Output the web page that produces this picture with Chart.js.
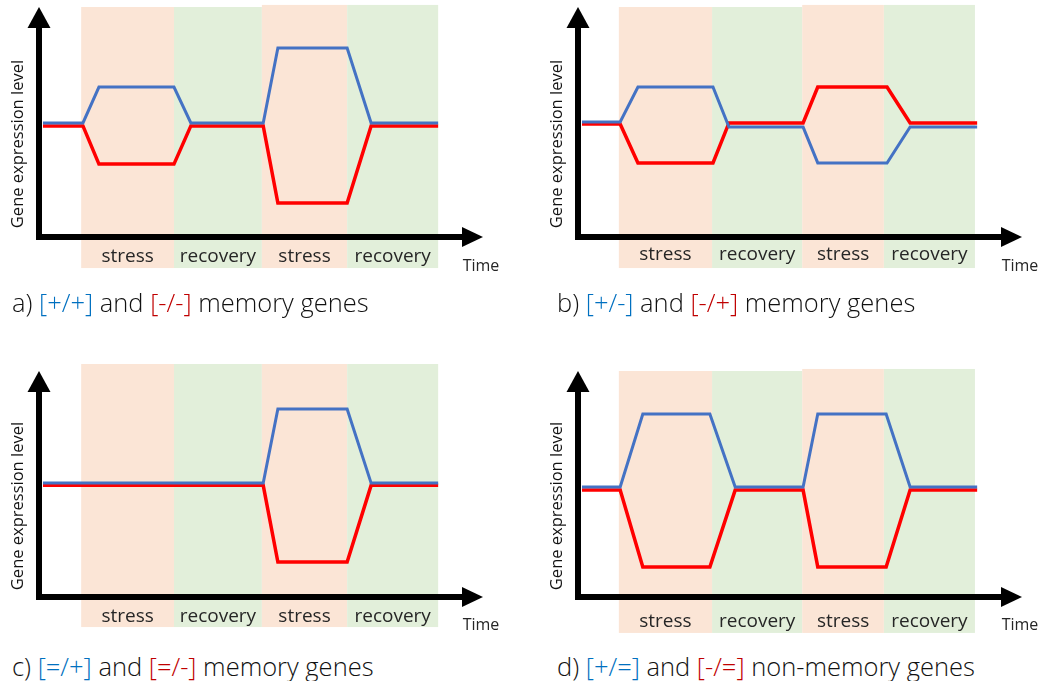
<!DOCTYPE html>
<html>
<head>
<meta charset="utf-8">
<script src="https://cdn.jsdelivr.net/npm/chart.js@4.4.0/dist/chart.umd.min.js"></script>
<style>
  body { margin: 0; background: #fff; width: 1040px; height: 681px; position: relative; overflow: hidden; }
  canvas.panel { position: absolute; }
  .caption { position: absolute; font-family: "Open Sans", sans-serif; font-weight: 300; font-size: 25.5px; line-height: 30px; color: #111; white-space: nowrap; }
  .up { color: #0070C0; }
  .down { color: #C00000; }
</style>
</head>
<body>
<canvas id="pa" class="panel" style="left:0;top:0" width="520" height="300"></canvas>
<canvas id="pb" class="panel" style="left:520px;top:0" width="520" height="300"></canvas>
<canvas id="pc" class="panel" style="left:0;top:340px" width="520" height="300"></canvas>
<canvas id="pd" class="panel" style="left:520px;top:340px" width="520" height="300"></canvas>

<div class="caption" style="left:12px;top:287px">a) <span class="up">[+/+]</span> and <span class="down">[-/-]</span> memory genes</div>
<div class="caption" style="left:557px;top:287px">b) <span class="up">[+/-]</span> and <span class="down">[-/+]</span> memory genes</div>
<div class="caption" style="left:12px;top:651px">c) <span class="up">[=/+]</span> and <span class="down">[=/-]</span> memory genes</div>
<div class="caption" style="left:557px;top:651px">d) <span class="up">[+/=]</span> and <span class="down">[-/=]</span> non-memory genes</div>

<script>
// phases along the time axis
const phaseNames = ['stress', 'recovery', 'stress', 'recovery'];
const phaseColors = ['#FBE5D6', '#E2EFDA', '#FBE5D6', '#E2EFDA'];

// a) [+/+] and [-/-]
const aTime = [0.9, 9.9, 13.5, 30.4, 34.2, 50.5, 53.8, 69.4, 74.8, 89.9];
const aBlue = [49.6, 49.6, 65.2, 65.2, 49.6, 49.6, 82.2, 82.2, 49.6, 49.6];
const aRed  = [48.3, 48.3, 31.7, 31.7, 48.3, 48.3, 14.8, 14.8, 48.3, 48.3];
const aEdges = [9.5, 30.4, 50.2, 69.4, 89.9];

// b) [+/-] and [-/+]
const bTime = [0.9, 9.5, 13.5, 30.4, 34.0, 50.7, 54.0, 69.6, 74.8, 89.9];
const bBlue = [50.0, 50.0, 65.2, 65.2, 47.8, 47.8, 32.2, 32.2, 47.8, 47.8];
const bRed  = [49.1, 49.1, 32.2, 32.2, 49.6, 49.6, 65.2, 65.2, 49.6, 49.6];
const bEdges = [9.2, 30.2, 50.5, 68.9, 89.4];

// c) [=/+] and [=/-]
const cTime = [0.9, 50.5, 53.8, 69.4, 74.8, 89.9];
const cBlue = [50.4, 50.4, 83.2, 83.2, 50.4, 50.4];
const cRed  = [49.4, 49.4, 15.5, 15.5, 49.4, 49.4];
const cEdges = [9.5, 30.4, 50.2, 69.4, 89.9];

// d) [+/=] and [-/=]
const dTime = [0.9, 9.5, 14.6, 29.7, 35.4, 50.7, 54.0, 69.4, 74.8, 89.9];
const dBlue = [48.7, 48.7, 81.0, 81.0, 48.7, 48.7, 81.0, 81.0, 48.7, 48.7];
const dRed  = [47.3, 47.3, 13.3, 13.3, 47.3, 47.3, 13.3, 13.3, 47.3, 47.3];
const dEdges = [9.2, 30.2, 50.5, 68.9, 89.4];

const FONT = '"Open Sans", sans-serif';

var toPoints = (xs, ys) => xs.map((x, i) => ({ x: x, y: ys[i] }));

// shaded phases, arrows and labels
var schemePlugin = {
    id: 'scheme',
    beforeDatasetsDraw(chart) {
        const o = chart.options.plugins.scheme, ctx = chart.ctx;
        const xs = chart.scales.x, ys = chart.scales.y;
        ctx.save();
        for (var i = 0; i < phaseNames.length; i++) {
            var x0 = xs.getPixelForValue(o.edges[i]), x1 = xs.getPixelForValue(o.edges[i + 1]);
            var y0 = ys.getPixelForValue(o.tops[i]), y1 = ys.getPixelForValue(o.bottom);
            ctx.fillStyle = phaseColors[i];
            ctx.fillRect(x0, y0, x1 - x0, y1 - y0);
        }
        ctx.restore();
    },
    afterDatasetsDraw(chart) {
        const o = chart.options.plugins.scheme, ctx = chart.ctx;
        const a = chart.chartArea, xs = chart.scales.x;
        const L = a.left, B = a.bottom, T = a.top, R = a.right;
        ctx.save();
        ctx.fillStyle = '#000';
        // y axis
        ctx.fillRect(L - 3, T + 20, 6, B - T - 17);
        ctx.beginPath();
        ctx.moveTo(L, T); ctx.lineTo(L + 11.5, T + 21); ctx.lineTo(L - 11.5, T + 21); ctx.closePath();
        ctx.fill();
        // x axis
        ctx.fillRect(L - 3, B - 3, R - L - 18, 6);
        ctx.beginPath();
        ctx.moveTo(R, B); ctx.lineTo(R - 21, B - 10); ctx.lineTo(R - 21, B + 10); ctx.closePath();
        ctx.fill();

        // phase labels
        ctx.fillStyle = '#262626';
        ctx.font = '19px ' + FONT;
        ctx.textAlign = 'center';
        ctx.textBaseline = 'middle';
        for (var i = 0; i < phaseNames.length; i++) {
            var cx = (xs.getPixelForValue(o.edges[i]) + xs.getPixelForValue(o.edges[i + 1])) / 2;
            ctx.fillText(phaseNames[i], cx, B + o.labelDy);
        }
        ctx.font = '16px ' + FONT;
        ctx.fillText('Time', R - 2, B + o.timeDy);

        // y title
        ctx.translate(L - 21, (T + B) / 2 + 22);
        ctx.rotate(-Math.PI / 2);
        ctx.font = '16.5px ' + FONT;
        ctx.fillStyle = '#111';
        ctx.fillText('Gene expression level', 0, 0);
        ctx.restore();
    }
};

var drawPanel = (id, time, blue, red, scheme, pad) => {
    new Chart(document.getElementById(id), {
        type: 'line',
        data: {
            datasets: [{
                data: toPoints(time, blue),
                borderColor: '#4472C4',
                borderWidth: 3
            }, {
                data: toPoints(time, red),
                borderColor: '#FF0000',
                borderWidth: 3.5
            }]
        },
        options: {
            responsive: false,
            animation: false,
            events: [],
            layout: { padding: pad },
            elements: {
                point: { radius: 0 },
                line: { tension: 0, borderJoinStyle: 'miter', borderCapStyle: 'butt' }
            },
            datasets: { line: { clip: false } },
            scales: {
                x: { type: 'linear', min: 0, max: 100, display: false },
                y: { type: 'linear', min: 0, max: 100, display: false }
            },
            plugins: {
                legend: { display: false },
                tooltip: { enabled: false },
                scheme: scheme
            }
        },
        plugins: [schemePlugin]
    });
}

drawPanel('pa', aTime, aBlue, aRed,
    { edges: aEdges, tops: [100, 100, 100.9, 100.9], bottom: -13.5, labelDy: 20, timeDy: 29 },
    { left: 39, right: 37, top: 7, bottom: 63 });
drawPanel('pb', bTime, bBlue, bRed,
    { edges: bEdges, tops: [100, 100, 100.9, 100.9], bottom: -13.5, labelDy: 18, timeDy: 29 },
    { left: 58, right: 18, top: 7, bottom: 63 });
drawPanel('pc', cTime, cBlue, cRed,
    { edges: cEdges, tops: [103.1, 103.1, 103.1, 103.1], bottom: -13.3, labelDy: 20, timeDy: 28 },
    { left: 39, right: 37, top: 31, bottom: 43 });
drawPanel('pd', dTime, dBlue, dRed,
    { edges: dEdges, tops: [100, 100, 100.9, 100.9], bottom: -15.9, labelDy: 25, timeDy: 28 },
    { left: 58, right: 18, top: 31, bottom: 43 });
</script>
</body>
</html>
